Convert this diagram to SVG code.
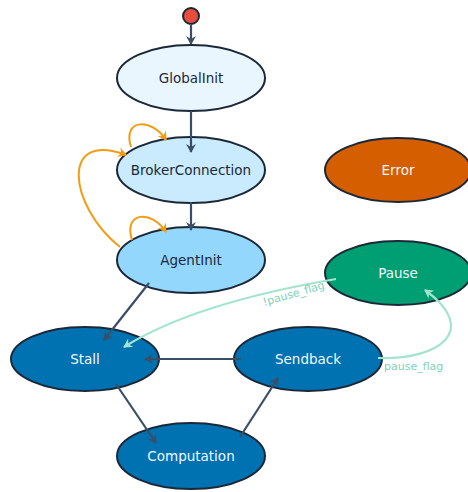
<svg xmlns="http://www.w3.org/2000/svg" width="468" height="492" viewBox="0 0 468 492">
<defs>
<style>
.n{stroke:#1b2838;stroke-width:2}
.t{font-family:"DejaVu Sans",Verdana,sans-serif;font-size:13.5px;text-anchor:middle;dominant-baseline:central}
.d{fill:#1b2838}
.w{fill:#f0f8ff}
.e{fill:none;stroke:#3a4e66;stroke-width:2.2}
.o{fill:none;stroke:#f39c12;stroke-width:2}
.m{fill:none;stroke:#a3e4d0;stroke-width:2.2}
.lbl{font-family:"DejaVu Sans",Verdana,sans-serif;font-size:11px;fill:#7fd1b9}
</style>
<marker id="a" markerWidth="10" markerHeight="10" refX="8" refY="5" orient="auto" markerUnits="userSpaceOnUse"><path d="M0,0 L9,5 L0,10 L3,5 Z" fill="#3a4e66"/></marker>
<marker id="ao" markerWidth="10" markerHeight="10" refX="8" refY="5" orient="auto" markerUnits="userSpaceOnUse"><path d="M0,0 L9,5 L0,10 L3,5 Z" fill="#f39c12"/></marker>
<marker id="am" markerWidth="10" markerHeight="10" refX="8" refY="5" orient="auto" markerUnits="userSpaceOnUse"><path d="M0,0 L9,5 L0,10 L3,5 Z" fill="#a3e4d0"/></marker>
</defs>
<rect width="468" height="492" fill="#ffffff"/>
<g id="start"><circle class="n" cx="191" cy="16" r="8" fill="#e74c3c"/></g>
<g id="GlobalInit"><ellipse class="n" cx="191" cy="78" rx="74" ry="33" fill="#eaf6fe"/><text class="t d" x="191" y="78">GlobalInit</text></g>
<g id="BrokerConnection"><ellipse class="n" cx="191" cy="170" rx="74" ry="33" fill="#c9ebfd"/><text class="t d" x="191" y="170">BrokerConnection</text></g>
<g id="AgentInit"><ellipse class="n" cx="191" cy="260" rx="74" ry="33" fill="#94d7fd"/><text class="t d" x="191" y="260">AgentInit</text></g>
<g id="Error"><ellipse class="n" cx="398" cy="170" rx="73" ry="32" fill="#d55e00"/><text class="t w" x="398" y="170">Error</text></g>
<g id="Pause"><ellipse class="n" cx="398" cy="273" rx="73" ry="32" fill="#009e73"/><text class="t w" x="398" y="273">Pause</text></g>
<g id="Stall"><ellipse class="n" cx="85" cy="359" rx="74" ry="32" fill="#0072b2"/><text class="t w" x="85" y="359">Stall</text></g>
<g id="Sendback"><ellipse class="n" cx="308" cy="359" rx="74" ry="32" fill="#0072b2"/><text class="t w" x="308" y="359">Sendback</text></g>
<g id="Computation"><ellipse class="n" cx="191" cy="456" rx="74" ry="33" fill="#0072b2"/><text class="t w" x="191" y="456">Computation</text></g>
<g id="connectors">
<path class="e" d="M191,24 L191,44" marker-end="url(#a)"/>
<path class="e" d="M191,111 L191,152" marker-end="url(#a)"/>
<path class="e" d="M191,202 L191,230" marker-end="url(#a)"/>
<path class="e" d="M149,283 L104,340" marker-end="url(#a)"/>
<path class="e" d="M241,359 L145,359" marker-end="url(#a)"/>
<path class="e" d="M116,384 L156,443" marker-end="url(#a)"/>
<path class="e" d="M240,437 L278,378" marker-end="url(#a)"/>
<path class="o" d="M131,147 C122,118 152,118 166,140" marker-end="url(#ao)"/>
<path class="o" d="M132,240 C123,211 152,210 166,232" marker-end="url(#ao)"/>
<path class="o" d="M120,247 C68,205 60,130 126,155" marker-end="url(#ao)"/>
<path class="m" d="M336,279 C260,292 180,312 124,347" marker-end="url(#am)"/>
<path class="m" d="M378,358 C440,360 480,330 425,290" marker-end="url(#am)"/>
<text class="lbl" transform="translate(264,306) rotate(-16)">!pause_flag</text>
<text class="lbl" x="384" y="370">pause_flag</text>
</g>
</svg>
